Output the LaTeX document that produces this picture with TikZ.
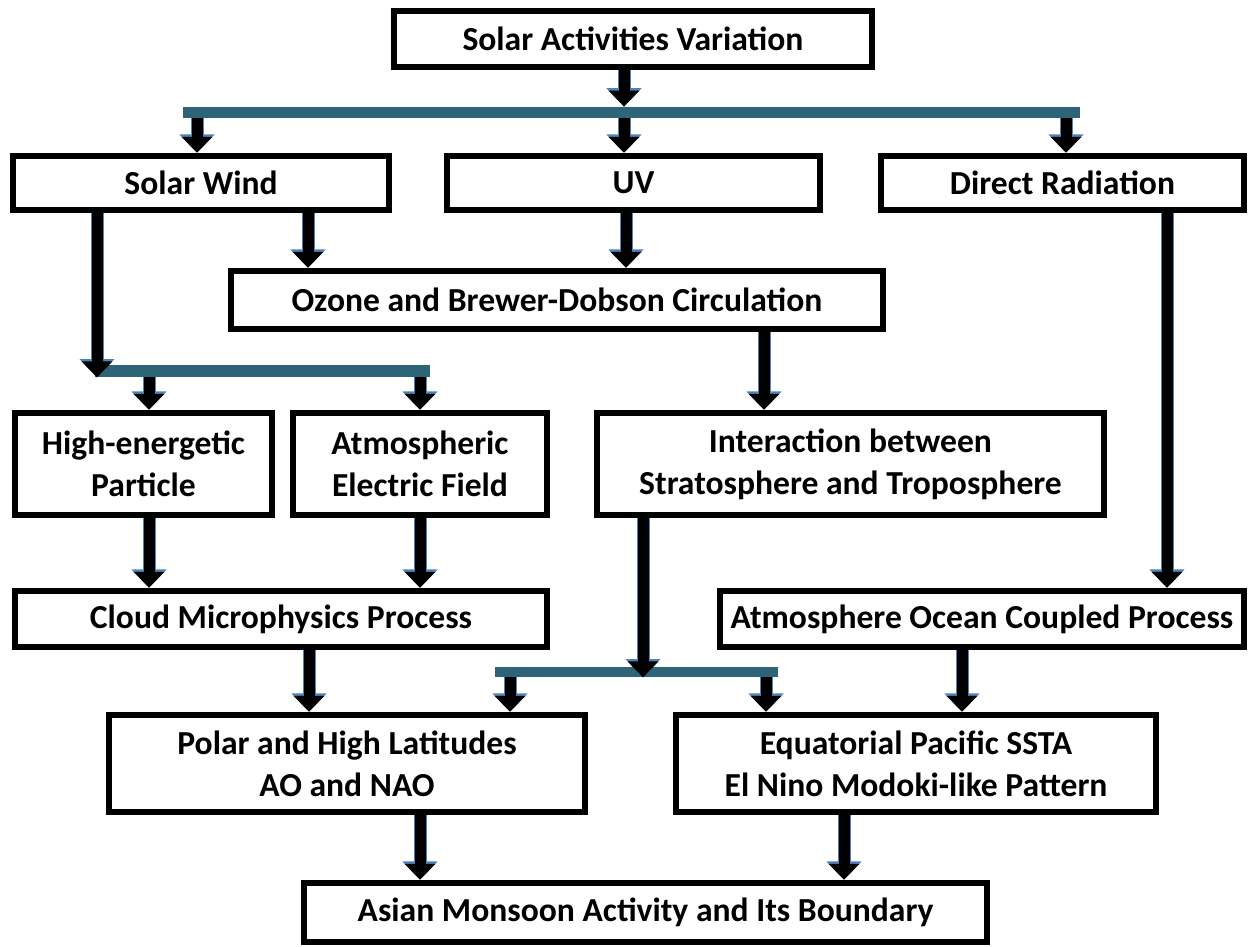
\documentclass[tikz,border=0pt]{standalone}
\usepackage{fontspec}
\setmainfont{Carlito}
\usetikzlibrary{arrows.meta}
\definecolor{barc}{RGB}{46,100,120}
\definecolor{edgeblue}{RGB}{79,129,189}
\begin{document}
\begin{tikzpicture}[x=0.5pt,y=-0.5pt,
  box/.style={draw=black, line width=3.2pt, fill=white, inner sep=0pt, align=center,
    font=\fontsize{16.8}{21}\selectfont\bfseries},
  bar/.style={fill=barc, draw=none, inner sep=0pt, minimum height=5.5pt},
  arr/.style={draw=black, line width=5.5pt, -{Triangle[width=15pt,length=8pt]},
    preaction={draw=edgeblue, line width=6.5pt, -{Triangle[width=17pt,length=9.2pt]}}}]
\path[use as bounding box, fill=white] (0,0) rectangle (1255,947);

% boxes
\node[box, minimum width=239pt, minimum height=28pt] (top) at (633,39) {Solar Activities Variation};
\node[box, minimum width=188pt, minimum height=27pt] (wind) at (201,183) {Solar Wind};
\node[box, minimum width=186.5pt, minimum height=27pt] (uv) at (633.5,183) {UV};
\node[box, minimum width=181.5pt, minimum height=27pt] (direct) at (1062.5,183) {Direct Radiation};
\node[box, minimum width=326pt, minimum height=29pt] (ozone) at (557,300) {Ozone and Brewer-Dobson Circulation};
\node[box, minimum width=128.5pt, minimum height=51pt] (high) at (143.5,464) {High-energetic\\Particle};
\node[box, minimum width=127pt, minimum height=51pt] (atmos) at (420,464) {Atmospheric\\Electric Field};
\node[box, minimum width=253.5pt, minimum height=51pt] (inter) at (850.5,464) {Interaction between\\Stratosphere and Troposphere};
\node[box, minimum width=266pt, minimum height=28pt] (cloud) at (281,619) {Cloud Microphysics Process};
\node[box, minimum width=262pt, minimum height=28pt] (aoc) at (982,619) {Atmosphere Ocean Coupled Process};
\node[box, minimum width=238pt, minimum height=48.5pt] (polar) at (347,763.5) {Polar and High Latitudes\\AO and NAO};
\node[box, minimum width=240pt, minimum height=48.5pt] (equat) at (916,763.5) {Equatorial Pacific SSTA\\El Nino Modoki-like Pattern};
\node[box, minimum width=341.5pt, minimum height=29.5pt] (asian) at (645.5,912.5) {Asian Monsoon Activity and Its Boundary};

% bars
\node[bar, minimum width=448.5pt] (bar1) at (631.5,112.5) {};
\node[bar, minimum width=167.5pt, minimum height=6pt] (bar2) at (262.5,371) {};
\node[bar, minimum width=141.5pt, minimum height=5pt] (bar3) at (636.5,672) {};

% arrows
\draw[arr] (624,0 |- top.south) -- (624,0 |- bar1.north);
\draw[arr] (197,0 |- bar1.south) -- (197,0 |- wind.north);
\draw[arr] (624,0 |- bar1.south) -- (624,0 |- uv.north);
\draw[arr] (1066,0 |- bar1.south) -- (1066,0 |- direct.north);

\draw[arr] (308,0 |- wind.south) -- (308,0 |- ozone.north);
\draw[arr] (626,0 |- uv.south) -- (626,0 |- ozone.north);
\draw[arr] (97,0 |- wind.south) -- (97,0 |- bar2.south);

\draw[arr] (149,0 |- bar2.south) -- (149,0 |- high.north);
\draw[arr] (420,0 |- bar2.south) -- (420,0 |- atmos.north);
\draw[arr] (764,0 |- ozone.south) -- (764,0 |- inter.north);
\draw[arr] (1167,0 |- direct.south) -- (1167,0 |- aoc.north);

\draw[arr] (149,0 |- high.south) -- (149,0 |- cloud.north);
\draw[arr] (420,0 |- atmos.south) -- (420,0 |- cloud.north);
\draw[arr] (643,0 |- inter.south) -- (643,0 |- bar3.south);

\draw[arr] (510,0 |- bar3.south) -- (510,0 |- polar.north);
\draw[arr] (766,0 |- bar3.south) -- (766,0 |- equat.north);
\draw[arr] (309,0 |- cloud.south) -- (309,0 |- polar.north);
\draw[arr] (962,0 |- aoc.south) -- (962,0 |- equat.north);

\draw[arr] (420,0 |- polar.south) -- (420,0 |- asian.north);
\draw[arr] (844,0 |- equat.south) -- (844,0 |- asian.north);
\end{tikzpicture}
\end{document}
